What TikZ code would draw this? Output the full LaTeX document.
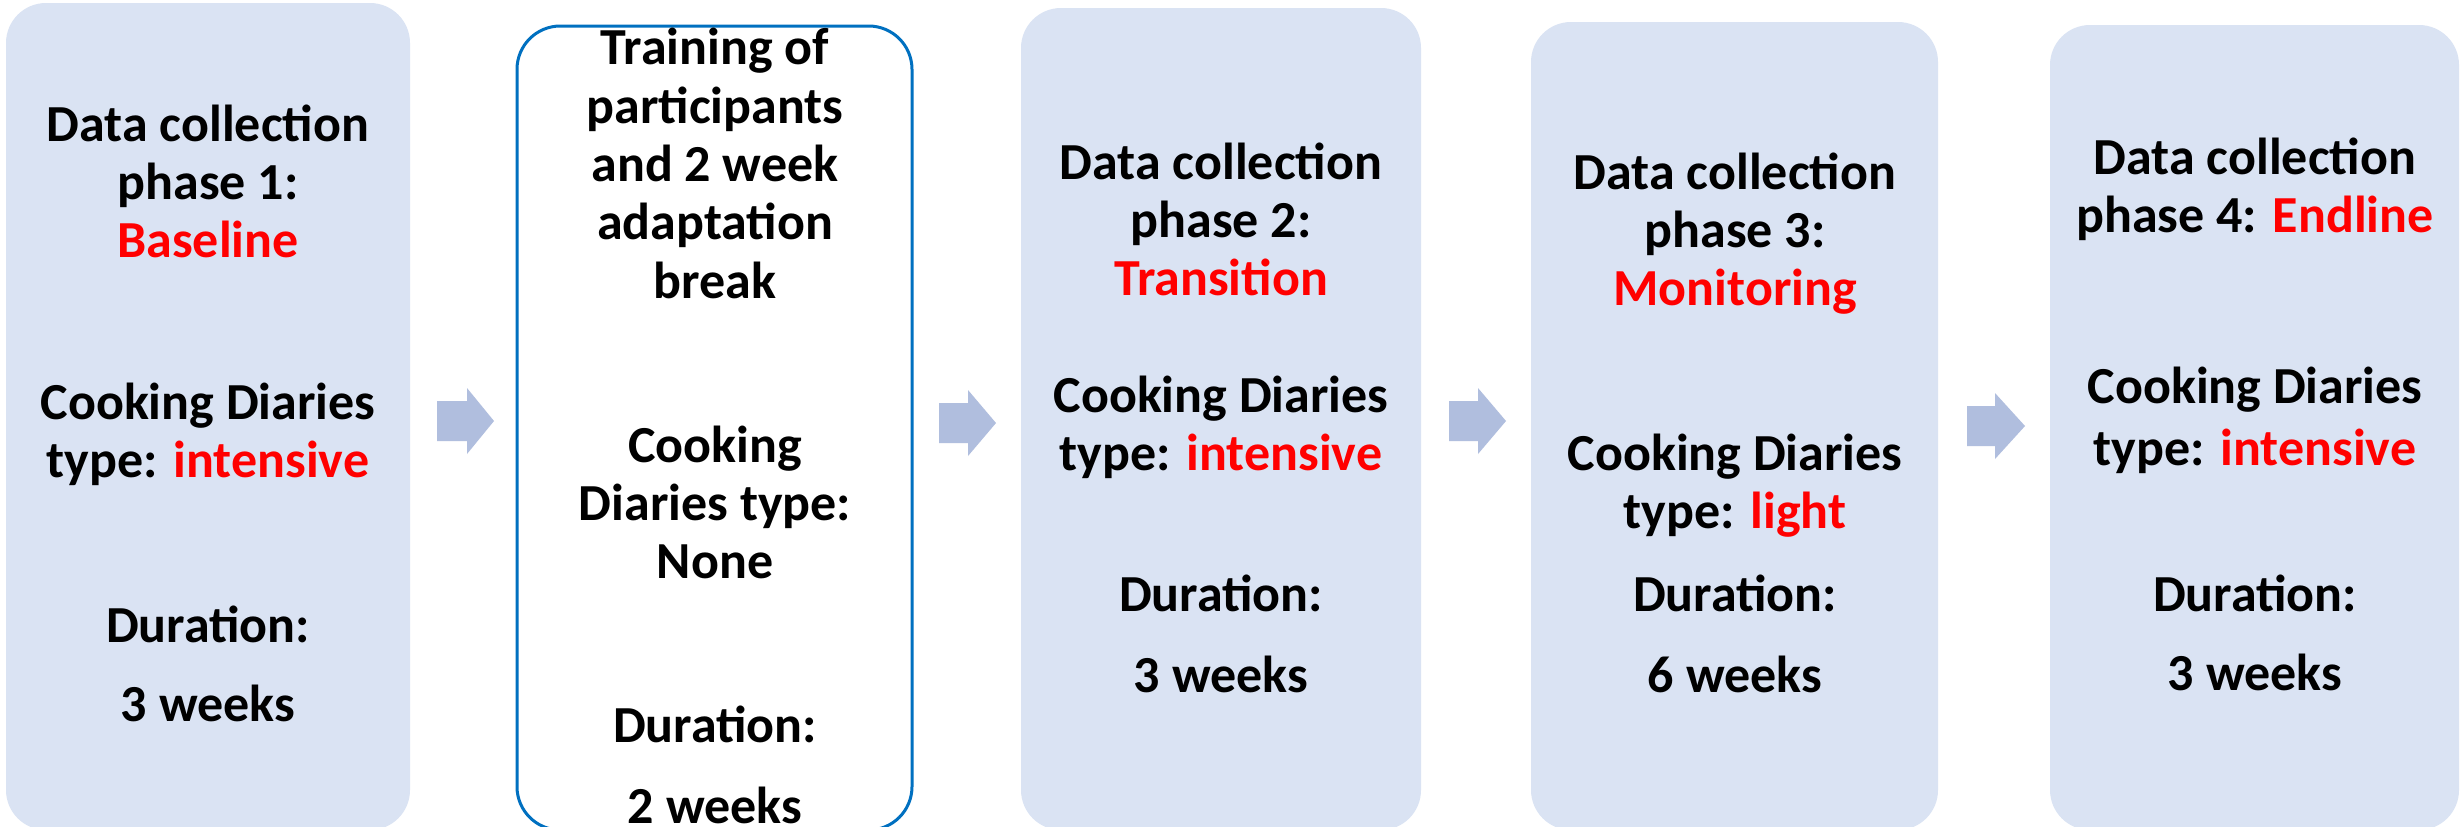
\documentclass[tikz,border=0pt]{standalone}
\usepackage{fontspec}
\setmainfont{Carlito}
\definecolor{boxfill}{RGB}{218,227,243}
\definecolor{arrfill}{RGB}{176,190,222}
\definecolor{bordblue}{RGB}{0,112,192}
\definecolor{hl}{RGB}{255,0,0}
\newcommand{\hlt}[1]{\textcolor{hl}{#1}}
\newcommand{\blockarr}[4]{%
  \fill[blockarrow] (#1,#4-20) -- (#2,#4-20) -- (#2,#4-33) -- (#3,#4) -- (#2,#4+33) -- (#2,#4+20) -- (#1,#4+20) -- cycle;}
\begin{document}
\begin{tikzpicture}[x=0.3pt,y=-0.3pt,
  phase/.style={fill=boxfill, rounded corners=12pt, inner sep=0pt},
  trainbox/.style={draw=bordblue, line width=0.9pt, fill=white, rounded corners=13pt, inner sep=0pt},
  txt/.style={font=\bfseries\fontsize{15.6}{17.4}\selectfont, align=center, inner sep=0pt},
  blockarrow/.style={fill=arrfill}]
\useasboundingbox (0,0) rectangle (2461,826);
\fill[white] (0,0) rectangle (2461,826);
% boxes
\node[phase, minimum width=121.2pt, minimum height=248.1pt] (b1) at (208,416.5) {};
\node[trainbox, minimum width=118.5pt, minimum height=241.2pt] (b2) at (714.5,428) {};
\node[phase, minimum width=120pt, minimum height=246.6pt] (b3) at (1221,419) {};
\node[phase, minimum width=122.1pt, minimum height=242.4pt] (b4) at (1734.5,426) {};
\node[phase, minimum width=122.7pt, minimum height=241.5pt] (b5) at (2254.5,427.5) {};
% arrows
\blockarr{437}{467}{494}{421}
\blockarr{939}{968}{996}{423}
\blockarr{1449}{1478}{1506}{421}
\blockarr{1967}{1995}{2025}{426}
% box 1
\node[txt] (t1) at (208,181) {Data collection\\phase 1:\\\hlt{Baseline}};
\node[txt] (c1) at (208,434) {Cooking Diaries\\type: \hlt{intensive}};
\node[txt] (d1) at (208,624) {Duration:};
\node[txt] (w1) at (208,703) {3 weeks};
% box 2
\node[txt, font=\bfseries\fontsize{15.6}{17.5}\selectfont] (t2) at (715,163.5) {Training of\\participants\\and 2 week\\adaptation\\break};
\node[txt] (c2) at (715,502) {Cooking\\Diaries type:\\None};
\node[txt] (d2) at (715,724) {Duration:};
\node[txt] (w2) at (715,805) {2 weeks};
% box 3
\node[txt] (t3) at (1221,219) {Data collection\\phase 2:\\\hlt{Transition}};
\node[txt] (c3) at (1221,427) {Cooking Diaries\\type: \hlt{intensive}};
\node[txt] (d3) at (1221,593) {Duration:};
\node[txt] (w3) at (1221,674) {3 weeks};
% box 4
\node[txt] (t4) at (1735,234) {Data collection\\phase 3:\\\hlt{Monitoring}};
\node[txt] (c4) at (1735,486) {Cooking Diaries\\type: \hlt{light}};
\node[txt] (d4) at (1735,593) {Duration:};
\node[txt] (w4) at (1735,674) {6 weeks};
% box 5
\node[txt] (t5) at (2255,189) {Data collection\\phase 4: \hlt{Endline}};
\node[txt, font=\bfseries\fontsize{15.6}{18.6}\selectfont] (c5) at (2255,420) {Cooking Diaries\\type: \hlt{intensive}};
\node[txt] (d5) at (2255,593) {Duration:};
\node[txt] (w5) at (2255,672) {3 weeks};
\end{tikzpicture}
\end{document}
